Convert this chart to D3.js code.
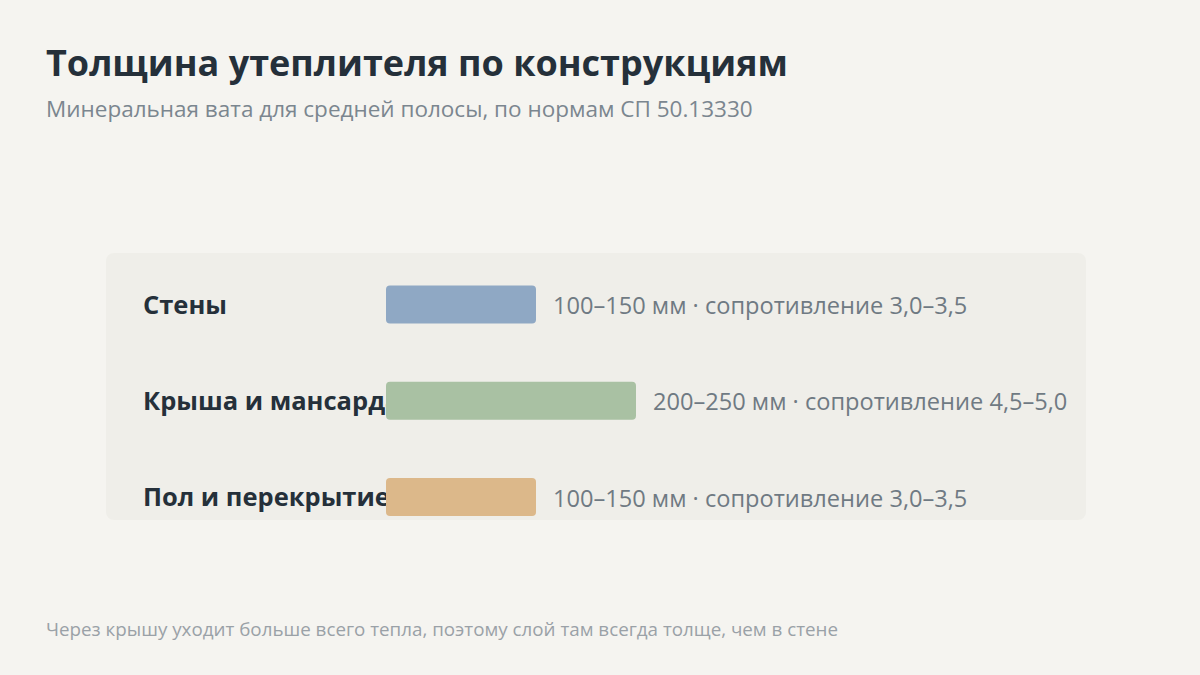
<!DOCTYPE html>
<html>
    <head>
        <meta charset="utf-8">
        <title></title>
        <style>
            html, body {
                margin: 0;
                padding: 0;
                background: #f5f4f0;
            }
            svg text {
                font-family: "Open Sans", "Noto Sans", sans-serif;
            }
        </style>
    </head>
    <body>
        <script src="https://cdnjs.cloudflare.com/ajax/libs/d3/7.8.5/d3.min.js" charset="utf-8"></script>
        <script>

        var categories = ["Стены", "Крыша и мансарда", "Пол и перекрытие"];
        var minThickness = [100, 200, 100];   // мм
        var maxThickness = [150, 250, 150];   // мм
        var resistance = ["3,0–3,5", "4,5–5,0", "3,0–3,5"];
        var barColors = ["#8fa8c4", "#a9c1a3", "#dcb88a"];

        var w = 1200;
        var h = 675;

        var rows = categories.map(function(c, i) {
            return {
                name: c,
                lo: minThickness[i],
                hi: maxThickness[i],
                res: resistance[i],
                color: barColors[i]
            };
        });

        var svg = d3.select("body")
                    .append("svg")
                    .attr("width", w)
                    .attr("height", h);

        svg.append("rect")
            .attr("width", w)
            .attr("height", h)
            .attr("fill", "#f5f4f0");

        // titles
        svg.append("text")
            .attr("x", 46)
            .attr("y", 76)
            .attr("font-size", "36px")
            .attr("font-weight", "bold")
            .attr("fill", "#25303a")
            .text("Толщина утеплителя по конструкциям");

        svg.append("text")
            .attr("x", 46)
            .attr("y", 117)
            .attr("font-size", "22.5px")
            .attr("fill", "#7b868f")
            .text("Минеральная вата для средней полосы, по нормам СП 50.13330");

        // panel
        svg.append("rect")
            .attr("x", 106)
            .attr("y", 253)
            .attr("width", 980)
            .attr("height", 267)
            .attr("rx", 8)
            .attr("fill", "#efeee9");

        var xScale = d3.scaleLinear()
                       .domain([0, 250])
                       .range([386, 636]);

        var yScale = d3.scalePoint()
                       .domain(categories)
                       .range([304.5, 497]);

        var barH = 38;

        // labels first, bars drawn over them
        svg.selectAll("text.label")
            .data(rows)
            .enter()
            .append("text")
            .attr("class", "label")
            .attr("x", 143)
            .attr("y", function(d) { return yScale(d.name) + 9; })
            .attr("font-size", "25.5px")
            .attr("font-weight", "bold")
            .attr("fill", "#25303a")
            .text(function(d) { return d.name; });

        svg.selectAll("rect.bar")
            .data(rows)
            .enter()
            .append("rect")
            .attr("class", "bar")
            .attr("x", xScale(0))
            .attr("y", function(d) { return yScale(d.name) - barH / 2; })
            .attr("width", function(d) { return xScale(d.hi) - xScale(0); })
            .attr("height", barH)
            .attr("rx", 4)
            .attr("fill", function(d) { return d.color; });

        svg.selectAll("text.value")
            .data(rows)
            .enter()
            .append("text")
            .attr("class", "value")
            .attr("x", function(d) { return xScale(d.hi) + 17; })
            .attr("y", function(d) { return yScale(d.name) + 9.5; })
            .attr("font-size", "23.6px")
            .attr("fill", "#6f7a83")
            .text(function(d) {
                return d.lo + "–" + d.hi + " мм · сопротивление " + d.res;
            });

        svg.append("text")
            .attr("x", 46)
            .attr("y", 636)
            .attr("font-size", "18.8px")
            .attr("fill", "#9aa1a7")
            .text("Через крышу уходит больше всего тепла, поэтому слой там всегда толще, чем в стене");

        </script>
    </body>
</html>
